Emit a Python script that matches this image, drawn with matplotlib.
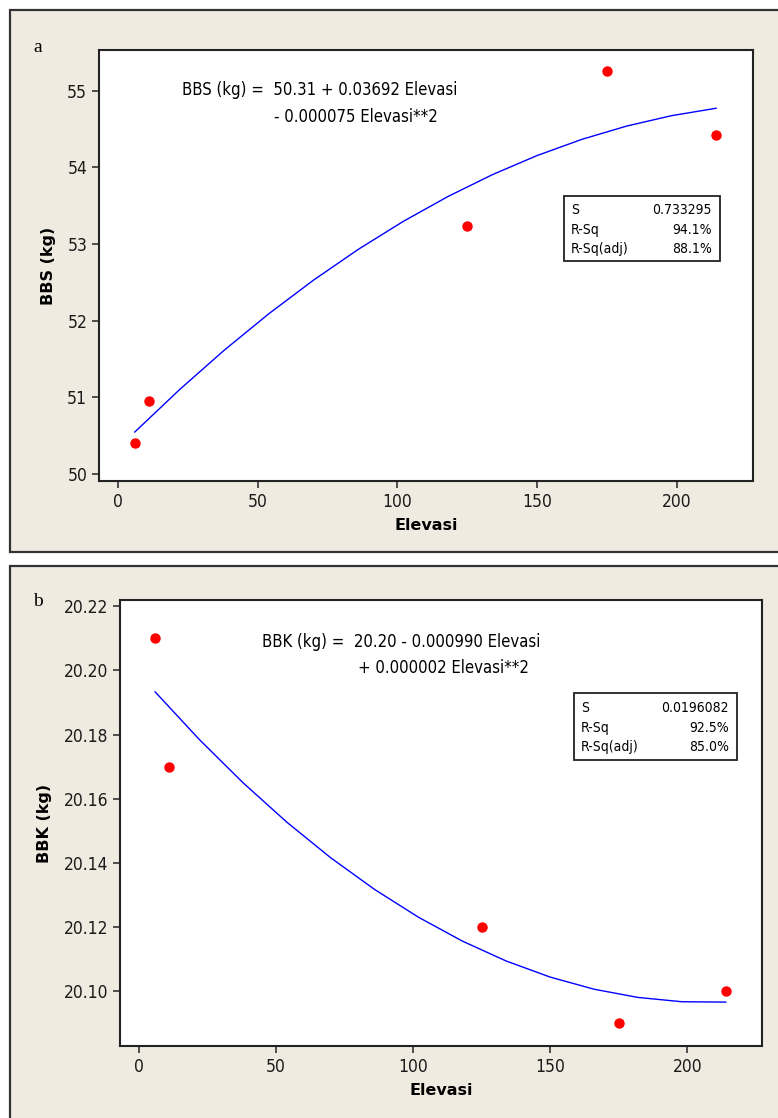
import numpy as np
import matplotlib.pyplot as plt
import matplotlib.font_manager as fm
from matplotlib.patches import Rectangle

# data
elevasi = [6, 11, 125, 175, 214]
bbs = [50.40, 50.95, 53.24, 55.25, 54.42]
bbk = [20.21, 20.17, 20.12, 20.09, 20.10]

eq_a = ["BBS (kg) =  50.31 + 0.03692 Elevasi", "- 0.000075 Elevasi**2"]
eq_b = ["BBK (kg) =  20.20 - 0.000990 Elevasi", "+ 0.000002 Elevasi**2"]
stats_names = ["S", "R-Sq", "R-Sq(adj)"]
stats_a = ["0.733295", "94.1%", "88.1%"]
stats_b = ["0.0196082", "92.5%", "85.0%"]

W, H = 778, 1118
BG = "#efebe0"

plt.rcParams["font.family"] = "DejaVu Sans"

# Minitab uses Tahoma; a condensed DejaVu is the closest width, else Liberation Sans
cond = [f.fname for f in fm.fontManager.ttflist
        if f.fname.endswith("DejaVuSansCondensed.ttf")]


def tfont(size):
    if cond:
        return fm.FontProperties(fname=cond[0], size=size)
    return fm.FontProperties(family="Liberation Sans", size=size)


fig = plt.figure(figsize=(W / 100, H / 100), dpi=100)
fig.patch.set_facecolor("white")


def fx(px):
    return px / W


def fy(py):
    return 1 - py / H


# beige frames behind each panel
fig.patches.append(Rectangle((fx(10), fy(552)), fx(800), fy(10) - fy(552),
                             transform=fig.transFigure, facecolor=BG,
                             edgecolor="#333333", lw=1.6, zorder=-5))
fig.patches.append(Rectangle((fx(10), fy(1130)), fx(800), fy(566) - fy(1130),
                             transform=fig.transFigure, facecolor=BG,
                             edgecolor="#333333", lw=1.6, zorder=-5))


def panel(box, y, ylim, yticks, yfmt, ylabel, eq, eq_pos, stats, stats_box, letter_pos, letter):
    l, t, r, b = box
    ax = fig.add_axes([fx(l), fy(b), fx(r) - fx(l), fy(t) - fy(b)])
    ax.set_zorder(1)
    ax.set_facecolor("white")
    x = np.array(elevasi, dtype=float)
    coef = np.polyfit(x, y, 2)
    xs = np.linspace(x.min(), x.max(), 14)
    ax.plot(xs, np.polyval(coef, xs), color="#0000ff", lw=1.0)
    ax.plot(x, y, "o", color="#ff0000", ms=6.5, mec="#ff0000")
    ax.set_xlim(-6.8, 227.2)
    ax.set_ylim(*ylim)
    ax.set_xticks([0, 50, 100, 150, 200])
    ax.set_yticks(yticks)
    ax.set_yticklabels([yfmt.format(v) for v in yticks])
    ax.tick_params(direction="out", length=5, width=1.2, color="#333333",
                   labelcolor="#1a1a1a")
    for lab in ax.get_xticklabels() + ax.get_yticklabels():
        lab.set_fontproperties(tfont(12.5))
    for s in ax.spines.values():
        s.set_linewidth(1.5)
        s.set_color("#222222")
    ax.set_xlabel("Elevasi", fontsize=11.5, fontweight="bold", labelpad=5)
    ax.set_ylabel(ylabel, fontsize=11.5, fontweight="bold", labelpad=8)

    # fitted equation
    (x1, y1), (x2, y2) = eq_pos
    ax.text(fx(x1), fy(y1), eq[0], fontproperties=tfont(12), va="center", ha="left",
            transform=fig.transFigure)
    ax.text(fx(x2), fy(y2), eq[1], fontproperties=tfont(12), va="center", ha="left",
            transform=fig.transFigure)

    # summary box
    bl, bt, br, bb = stats_box
    ax.add_patch(Rectangle((fx(bl), fy(bb)), fx(br) - fx(bl), fy(bt) - fy(bb),
                           transform=fig.transFigure, facecolor="white",
                           edgecolor="#222222", lw=1.3, zorder=5, clip_on=False))
    for frac, n, v in zip([0.22, 0.52, 0.81], stats_names, stats):
        yc = bt + (bb - bt) * frac
        ax.text(fx(bl + 7), fy(yc), n, fontproperties=tfont(10), va="center", ha="left",
                zorder=6, transform=fig.transFigure)
        ax.text(fx(br - 8), fy(yc), v, fontproperties=tfont(10), va="center", ha="right",
                zorder=6, transform=fig.transFigure)

    fig.text(fx(letter_pos[0]), fy(letter_pos[1]), letter, fontsize=14,
             family="Liberation Serif", va="center", ha="center")
    return ax


panel((99, 50, 753, 481), bbs, (49.91, 55.53), [50, 51, 52, 53, 54, 55], "{:.0f}",
      "BBS (kg)", eq_a, ((182, 90), (274, 117)), stats_a, (564, 196, 720, 261),
      (38, 47), "a")
panel((120, 600, 762, 1046), bbk, (20.0828, 20.222), [20.10, 20.12, 20.14, 20.16, 20.18, 20.20, 20.22],
      "{:.2f}", "BBK (kg)", eq_b, ((262, 642), (358, 668)), stats_b, (574, 693, 737, 760),
      (38, 601), "b")

fig.savefig("out.png", dpi=100)
